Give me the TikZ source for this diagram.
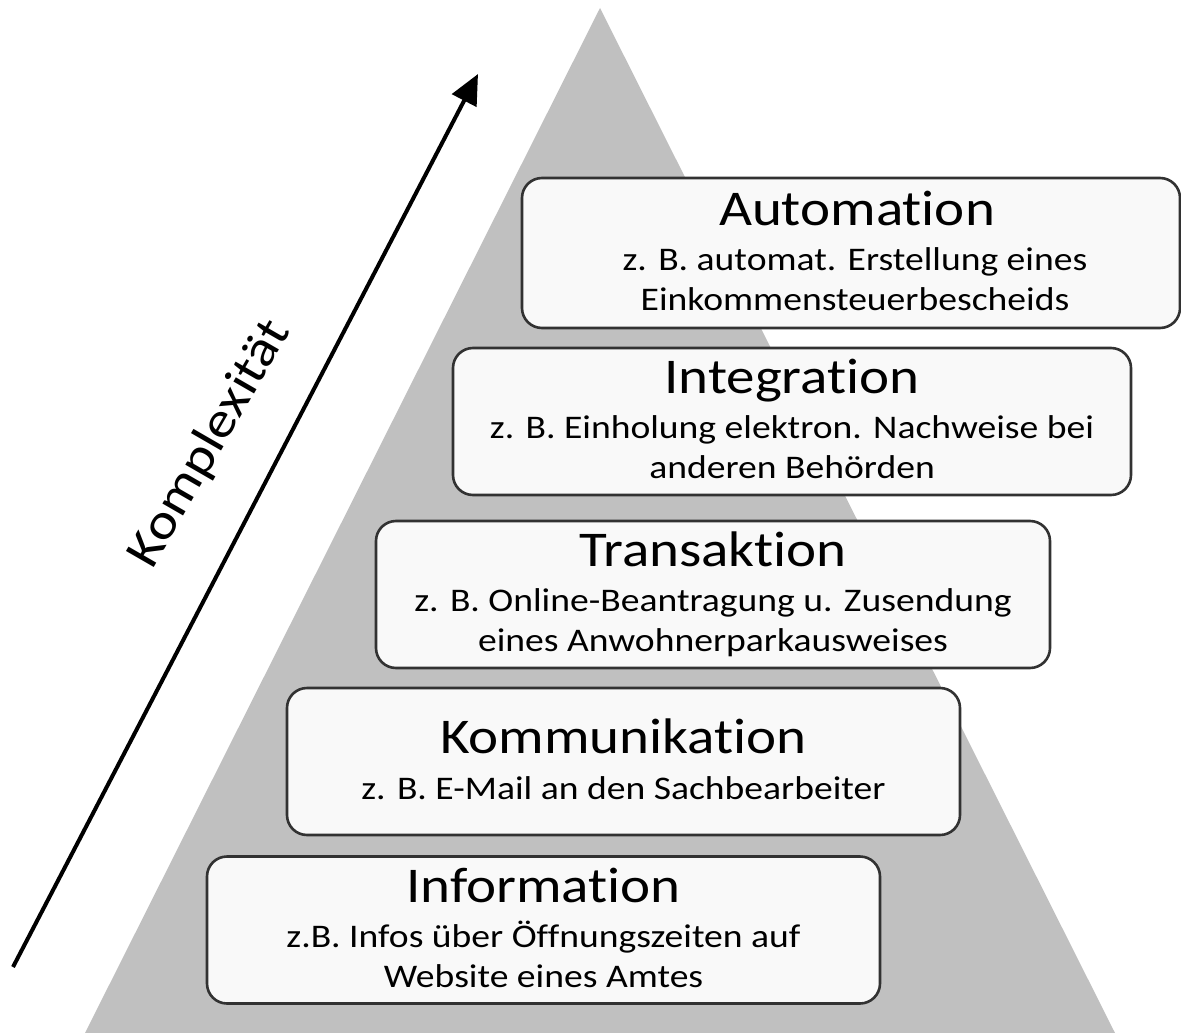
\documentclass[tikz,border=0pt]{standalone}
\usepackage{fontspec}
\setmainfont{Carlito}[FakeStretch=1.14, Ligatures=NoCommon]
\usetikzlibrary{arrows.meta,calc}

\definecolor{pyramid}{RGB}{192,192,192}
\definecolor{boxfill}{RGB}{249,249,249}
\definecolor{boxline}{RGB}{50,50,50}

\tikzset{
  level/.style={draw=boxline, line width=2.6pt, fill=boxfill,
    rounded corners=20pt, inner sep=0pt},
  ttl/.style={anchor=base, inner sep=0pt, font=\fontsize{50}{60}\selectfont},
  sub/.style={anchor=base, inner sep=0pt, font=\fontsize{33}{40}\selectfont},
}

\begin{document}
\begin{tikzpicture}[x=1pt, y=-1pt]
  \useasboundingbox (0,0) rectangle (1181,1033);

  % grey pyramid in the background
  \fill[pyramid] (600,8) -- (1115,1033) -- (85,1033) -- cycle;

  % complexity axis
  \coordinate (axfrom) at (13,967);
  \coordinate (axto) at (478,74);
  \draw[line width=4pt, -{Triangle[length=30pt,width=27pt]}] (axfrom) -- (axto);
  \node[rotate=60, inner sep=0pt, font=\fontsize{50}{60}\selectfont]
    (axlabel) at (210,444) {Komplexität};

  % levels, bottom to top
  \node[level, minimum width=673pt, minimum height=147pt] (info) at (543.5,930) {};
  \node[ttl] (infoT) at ($(info.center)+(0,-28)$) {Information};
  \node[sub] (infoA) at ($(info.center)+(0,17)$) {z.B. Infos über Öffnungszeiten auf};
  \node[sub] (infoB) at ($(info.center)+(0,57)$) {Website eines Amtes};

  \node[level, minimum width=673pt, minimum height=147pt] (komm) at (623.5,761.5) {};
  \node[ttl] (kommT) at ($(komm.center)+(0,-8)$) {Kommunikation};
  \node[sub] (kommA) at ($(komm.center)+(0,38)$) {z. B. E-Mail an den Sachbearbeiter};

  \node[level, minimum width=674pt, minimum height=147pt] (trans) at (713,594.5) {};
  \node[ttl] (transT) at ($(trans.center)+(0,-28)$) {Transaktion};
  \node[sub] (transA) at ($(trans.center)+(0,17)$) {z. B. Online-Beantragung u. Zusendung};
  \node[sub] (transB) at ($(trans.center)+(0,57)$) {eines Anwohnerparkausweises};

  \node[level, minimum width=678pt, minimum height=147pt] (integ) at (792,421.5) {};
  \node[ttl] (integT) at ($(integ.center)+(0,-28)$) {Integration};
  \node[sub] (integA) at ($(integ.center)+(0,17)$) {z. B. Einholung elektron. Nachweise bei};
  \node[sub] (integB) at ($(integ.center)+(0,57)$) {anderen Behörden};

  \node[level, minimum width=658pt, minimum height=150pt] (auto) at (851,253) {};
  \node[ttl] (autoT) at ($(auto.center)+(6,-28)$) {Automation};
  \node[sub] (autoA) at ($(auto.center)+(4,17)$) {z. B. automat. Erstellung eines};
  \node[sub] (autoB) at ($(auto.center)+(4,57)$) {Einkommensteuerbescheids};
\end{tikzpicture}
\end{document}
